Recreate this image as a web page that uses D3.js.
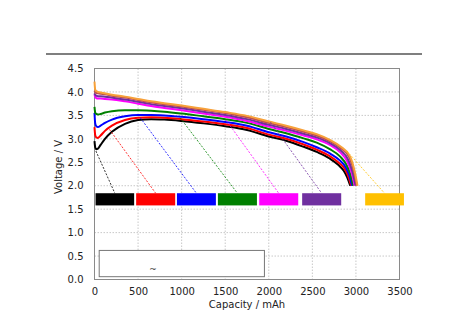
<!DOCTYPE html>
<html><head><meta charset="utf-8">
<script src="https://cdn.jsdelivr.net/npm/d3@7"></script>
<style>body{margin:0;background:#fff}svg{display:block}text{font-family:"DejaVu Sans",Verdana,sans-serif}</style>
</head><body><svg id="c" width="474" height="334"></svg>
<script>
// ---- data ----
const capacity = [0, 8, 20, 40, 70, 120, 200, 350, 500, 650, 800, 1000, 1250, 1500, 1750, 2000, 2200, 2400, 2550, 2700];
const seriesNames = ["black", "red", "blue", "green", "magenta", "purple", "brown", "orange"];
const seriesColors = ["#000000", "#ff0000", "#0000ff", "#008000", "#ff00ff", "#7030a0", "#c0504d", "#f7a13a"];
const voltBlack   = [2.95, 2.82, 2.78, 2.79, 2.87, 3.00, 3.15, 3.32, 3.40, 3.42, 3.41, 3.38, 3.33, 3.27, 3.19, 3.05, 2.96, 2.83, 2.72, 2.58];
const voltRed     = [3.25, 3.08, 3.03, 3.02, 3.07, 3.17, 3.28, 3.40, 3.45, 3.46, 3.45, 3.42, 3.37, 3.31, 3.23, 3.09, 3.00, 2.88, 2.77, 2.63];
const voltBlue    = [3.55, 3.33, 3.27, 3.25, 3.28, 3.34, 3.41, 3.48, 3.51, 3.51, 3.50, 3.47, 3.42, 3.36, 3.28, 3.14, 3.05, 2.93, 2.82, 2.69];
const voltGreen   = [3.68, 3.56, 3.53, 3.52, 3.53, 3.56, 3.59, 3.61, 3.61, 3.60, 3.58, 3.54, 3.48, 3.42, 3.34, 3.21, 3.12, 3.01, 2.92, 2.78];
const voltMagenta = [3.95, 3.90, 3.87, 3.86, 3.86, 3.85, 3.84, 3.80, 3.75, 3.70, 3.66, 3.61, 3.54, 3.47, 3.38, 3.26, 3.17, 3.07, 2.99, 2.87];
const voltPurple  = [3.97, 3.94, 3.92, 3.91, 3.91, 3.90, 3.88, 3.84, 3.79, 3.74, 3.70, 3.65, 3.58, 3.51, 3.42, 3.30, 3.21, 3.11, 3.03, 2.91];
const voltBrown   = [4.03, 4.00, 3.98, 3.97, 3.96, 3.95, 3.92, 3.88, 3.83, 3.78, 3.74, 3.69, 3.62, 3.55, 3.46, 3.34, 3.25, 3.15, 3.07, 2.95];
const voltOrange  = [4.22, 4.05, 4.02, 4.00, 3.99, 3.97, 3.94, 3.90, 3.85, 3.80, 3.76, 3.71, 3.64, 3.57, 3.49, 3.37, 3.28, 3.18, 3.10, 2.98];
const tailCapBlack   = [2800, 2860, 2900, 2935], tailVoltBlack   = [2.44, 2.32, 2.18, 2.0];
const tailCapRed     = [2810, 2870, 2910, 2945], tailVoltRed     = [2.48, 2.36, 2.21, 2.0];
const tailCapBlue    = [2815, 2880, 2920, 2955], tailVoltBlue    = [2.54, 2.40, 2.24, 2.0];
const tailCapGreen   = [2820, 2890, 2935, 2968], tailVoltGreen   = [2.62, 2.45, 2.25, 2.0];
const tailCapMagenta = [2820, 2900, 2950, 2985], tailVoltMagenta = [2.71, 2.52, 2.28, 2.0];
const tailCapPurple  = [2820, 2910, 2962, 2997], tailVoltPurple  = [2.76, 2.56, 2.29, 2.0];
const tailCapBrown   = [2820, 2925, 2980, 3010], tailVoltBrown   = [2.81, 2.60, 2.28, 2.0];
const tailCapOrange  = [2820, 2934, 2990, 3018], tailVoltOrange  = [2.84, 2.62, 2.27, 2.0];

// label boxes (text lost in original) and leader lines
const boxColors   = ["#000000", "#ff0000", "#0000ff", "#008000", "#ff00ff", "#7030a0", "#ffc000"];
const boxStartCap = [12, 478, 946, 1416, 1890, 2383, 3106];
const boxEndCap   = [455, 926, 1393, 1864, 2338, 2831, 3551];
const boxTopVolt = 1.84, boxBottomVolt = 1.58;
const leaderCap  = [16, 172, 525, 983, 1510, 2018, 2896];
const leaderVolt = [2.74, 3.20, 3.45, 3.45, 3.40, 3.36, 2.74];

const xTicks = [0, 500, 1000, 1500, 2000, 2500, 3000, 3500];
const yTicks = [0, 0.5, 1.0, 1.5, 2.0, 2.5, 3.0, 3.5, 4.0, 4.5];
const xTitle = "Capacity / mAh", yTitle = "Voltage / V";
const noteText = "~";
const noteCap = [54, 1950], noteVolt = [0.06, 0.62];

// ---- chart ----
const svg = d3.select("#c");
const L = 94.5, R = 399.5, T = 68.5, B = 279.5;
const x = d3.scaleLinear().domain([0, 3500]).range([L, R]);
const y = d3.scaleLinear().domain([0, 4.5]).range([B, T]);

svg.append("line").attr("x1", 46).attr("x2", 422).attr("y1", 54).attr("y2", 54)
  .attr("stroke", "#555").attr("stroke-width", 1.5);

// grid
const g = svg.append("g");
g.selectAll(".vg").data(xTicks.filter(d => d > 0 && d < 3500)).join("line")
  .attr("x1", d => x(d)).attr("x2", d => x(d)).attr("y1", T).attr("y2", B)
  .attr("stroke", "#c8c8c8").attr("stroke-dasharray", "1.5,1.5");
g.selectAll(".hg").data(yTicks.filter(d => d > 0 && d < 4.5)).join("line")
  .attr("x1", L).attr("x2", R).attr("y1", d => y(d)).attr("y2", d => y(d))
  .attr("stroke", "#c8c8c8").attr("stroke-dasharray", "1.5,1.5");

// axes
const xa = svg.append("g").attr("transform", `translate(0,${B})`)
  .call(d3.axisBottom(x).tickValues(xTicks).tickSize(0).tickPadding(8).tickFormat(d3.format("d")));
const ya = svg.append("g").attr("transform", `translate(${L},0)`)
  .call(d3.axisLeft(y).tickValues(yTicks).tickSize(0).tickPadding(11).tickFormat(d3.format(".1f")));
[xa, ya].forEach(a => { a.select(".domain").remove(); a.selectAll("text").attr("font-size", 10).attr("fill", "#222").attr("font-family", "DejaVu Sans"); });

svg.append("rect").attr("x", L).attr("y", T).attr("width", R - L).attr("height", B - T)
  .attr("fill", "none").attr("stroke", "#8a8a8a").attr("stroke-width", 1);

svg.append("text").attr("x", (L + R) / 2).attr("y", 308).attr("text-anchor", "middle")
  .attr("font-size", 10).attr("fill", "#222").text(xTitle);
svg.append("text").attr("transform", `translate(62,${(T + B) / 2 - 7}) rotate(-90)`).attr("text-anchor", "middle")
  .attr("font-size", 10).attr("fill", "#222").text(yTitle);

// curves
const volts = [voltBlack, voltRed, voltBlue, voltGreen, voltMagenta, voltPurple, voltBrown, voltOrange];
const tailCaps = [tailCapBlack, tailCapRed, tailCapBlue, tailCapGreen, tailCapMagenta, tailCapPurple, tailCapBrown, tailCapOrange];
const tailVolts = [tailVoltBlack, tailVoltRed, tailVoltBlue, tailVoltGreen, tailVoltMagenta, tailVoltPurple, tailVoltBrown, tailVoltOrange];
const line = d3.line().x(d => x(d[0])).y(d => y(d[1])).curve(d3.curveMonotoneX);
const series = seriesNames.map((n, i) => ({
  name: n, color: seriesColors[i],
  pts: capacity.map((c, j) => [c, volts[i][j]]).concat(tailCaps[i].map((c, j) => [c, tailVolts[i][j]]))
}));
svg.append("g").selectAll("path").data(series).join("path")
  .attr("d", d => line(d.pts)).attr("fill", "none").attr("stroke", d => d.color)
  .attr("stroke-width", 2).attr("stroke-linejoin", "round");

// leader lines
svg.append("g").selectAll("line").data(boxColors).join("line")
  .attr("x1", (d, i) => x(leaderCap[i])).attr("y1", (d, i) => y(leaderVolt[i]))
  .attr("x2", (d, i) => x((boxStartCap[i] + boxEndCap[i]) / 2)).attr("y2", y(boxTopVolt))
  .attr("stroke", d => d).attr("stroke-width", 0.8).attr("stroke-dasharray", "2,1.5");

// boxes
svg.append("g").selectAll("rect").data(boxColors).join("rect")
  .attr("x", (d, i) => x(boxStartCap[i])).attr("y", y(boxTopVolt))
  .attr("width", (d, i) => x(boxEndCap[i]) - x(boxStartCap[i])).attr("height", y(boxBottomVolt) - y(boxTopVolt))
  .attr("fill", d => d);

// note box
svg.append("rect").attr("x", x(noteCap[0])).attr("y", y(noteVolt[1]))
  .attr("width", x(noteCap[1]) - x(noteCap[0])).attr("height", y(noteVolt[0]) - y(noteVolt[1]))
  .attr("fill", "#fff").attr("stroke", "#777").attr("stroke-width", 1);
svg.append("text").attr("x", 153).attr("y", 272).attr("text-anchor", "middle")
  .attr("font-size", 9).attr("fill", "#333").text(noteText);
</script></body></html>
